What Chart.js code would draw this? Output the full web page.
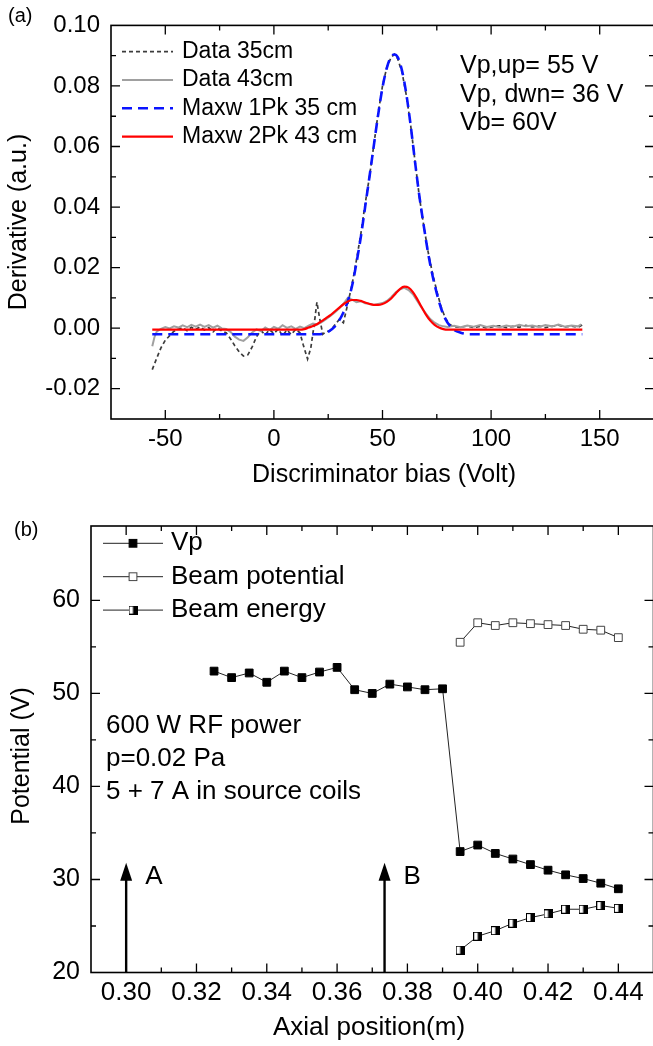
<!DOCTYPE html>
<html>
<head>
<meta charset="utf-8">
<title>Discriminator derivative and axial potential</title>
<script src="https://cdn.jsdelivr.net/npm/chart.js@4.4.1/dist/chart.umd.min.js"></script>
<style>
  html, body { margin: 0; padding: 0; background: #fff; overflow: hidden; }
  #wrap { position: relative; width: 653px; height: 1046px; overflow: hidden; }
  canvas { position: absolute; left: 0; }
  #canvasDeriv { top: 0; }
  #canvasPot { top: 500px; }
</style>
</head>
<body>
<div id="wrap">
  <canvas id="canvasDeriv" width="660" height="500"></canvas>
  <canvas id="canvasPot" width="660" height="546"></canvas>
</div>
<script>
var FONT = "'Liberation Sans', Arial, Helvetica, sans-serif";
Chart.defaults.font.family = FONT;
Chart.defaults.color = '#000';
Chart.defaults.animation = false;

// ---- (a) derivative of the I-V curves, pairs of [bias (V), derivative] ----
var data35 = [
  [-56,-0.0137],[-54,-0.0100],[-52,-0.0065],[-50,-0.0040],[-48,-0.0025],[-46,-0.0010],
  [-44,-0.0003],[-42,0.0002],[-40,-0.0008],[-38,0.0003],[-36,-0.0004],[-34,0.0004],
  [-32,-0.0006],[-30,0.0002],[-28,-0.0012],[-26,0.0001],[-24,-0.0009],[-22,-0.0015],
  [-20,-0.0035],[-18,-0.0058],[-16,-0.0078],[-14,-0.0092],[-12,-0.0088],[-10,-0.0062],
  [-8,-0.0028],[-6,-0.0008],[-4,-0.0022],[-2,-0.0005],[0,-0.0018],[2,-0.0003],
  [4,-0.0025],[6,-0.0006],[8,-0.0021],[10,-0.0004],[12,-0.0015],[13.5,-0.0055],
  [15.5,-0.0102],[17,-0.0065],[18.5,0.0010],[19.8,0.0086],[21,0.0035],[22.5,-0.0020],
  [24,-0.0012],[26,-0.0008],[28,0.0010],[30,0.0028],[32,0.0018],[34,0.0080],
  [36,0.0145],[38,0.0225],[40,0.0310],[42,0.0410],[44,0.0500],[46,0.0605],
  [48,0.0710],[50,0.0800],[52,0.0862],[54,0.0895],[55.5,0.0905],[57,0.0890],
  [59,0.0845],[61,0.0768],[63,0.0668],[65,0.0550],[67,0.0432],[69,0.0338],
  [71,0.0252],[73,0.0182],[75,0.0122],[77,0.0070],[79,0.0032],[81,0.0012],
  [83,0.0004],[86,0.0003],[89,0.0007],[92,0.0002],[95,0.0006],[98,0.0001],
  [101,0.0005],[104,0.0008],[107,0.0002],[110,0.0006],[113,0.0003],[116,0.0009],
  [119,0.0004],[122,0.0007],[125,0.0002],[128,0.0006],[131,0.0010],[134,0.0004],
  [137,0.0007],[140,0.0003],[142,0.0011]
];
var data43 = [
  [-56,-0.0060],[-55,-0.0030],[-54,-0.0012],[-52,-0.0002],[-50,0.0004],[-48,-0.0001],
  [-46,0.0006],[-44,0.0002],[-42,0.0009],[-40,0.0003],[-38,0.0011],[-36,0.0005],
  [-34,0.0012],[-32,0.0004],[-30,0.0010],[-28,0.0002],[-26,0.0008],[-24,-0.0001],
  [-22,-0.0003],[-20,-0.0012],[-18,-0.0028],[-16,-0.0038],[-14,-0.0042],[-12,-0.0030],
  [-10,-0.0014],[-8,-0.0004],[-6,-0.0010],[-4,0.0002],[-2,-0.0006],[0,0.0004],
  [2,-0.0002],[4,0.0010],[6,0.0001],[8,0.0006],[10,-0.0002],[12,0.0005],
  [14,0.0000],[16,0.0008],[18,0.0015],[20,0.0012],[22,0.0020],[24,0.0030],
  [26,0.0040],[28,0.0052],[30,0.0065],[32,0.0080],[34,0.0100],[36,0.0094],
  [38,0.0086],[40,0.0089],[42,0.0082],[44,0.0081],[46,0.0077],[48,0.0080],
  [50,0.0083],[52,0.0090],[54,0.0102],[56,0.0118],[58,0.0128],[60,0.0133],
  [62,0.0126],[64,0.0112],[66,0.0090],[68,0.0068],[70,0.0048],[72,0.0030],
  [74,0.0018],[76,0.0010],[78,0.0006],[80,0.0004],[83,0.0008],[86,0.0003],
  [89,0.0009],[92,0.0005],[95,0.0010],[98,0.0004],[101,0.0008],[104,0.0003],
  [107,0.0009],[110,0.0005],[113,0.0011],[116,0.0006],[119,0.0009],[122,0.0004],
  [125,0.0010],[128,0.0006],[131,0.0012],[134,0.0005],[137,0.0009],[140,0.0006],
  [141.5,0.0013]
];
var maxw1Pk35 = [
  [-56,-0.0020],[0,-0.0020],[20,-0.0020],[22,-0.0019],[25,-0.0012],[28,0.0005],
  [30,0.0025],[32,0.0052],[34,0.0088],[36,0.0140],[38,0.0215],[40,0.0300],
  [42,0.0400],[44,0.0500],[46,0.0603],[48,0.0705],[50,0.0795],[52,0.0860],
  [54,0.0897],[55.5,0.0904],[57,0.0895],[59,0.0850],[61,0.0772],[63,0.0668],
  [65,0.0548],[67,0.0435],[69,0.0338],[71,0.0248],[73,0.0175],[75,0.0115],
  [77,0.0065],[79,0.0030],[81,0.0008],[83,-0.0006],[86,-0.0015],[90,-0.0020],
  [142,-0.0020]
];
var maxw2Pk43 = [
  [-56,-0.0005],[0,-0.0005],[12,-0.0005],[14,-0.0003],[16,0.0002],[18,0.0007],
  [20,0.0014],[22,0.0023],[24,0.0033],[26,0.0043],[28,0.0055],[30,0.0067],
  [32,0.0079],[34,0.0088],[36,0.0093],[38,0.0093],[40,0.0090],[42,0.0085],
  [44,0.0080],[46,0.0077],[48,0.0077],[50,0.0080],[52,0.0087],[54,0.0098],
  [56,0.0114],[58,0.0129],[60,0.0137],[62,0.0134],[64,0.0119],[66,0.0096],
  [68,0.0070],[70,0.0045],[72,0.0025],[74,0.0011],[76,0.0002],[78,-0.0003],
  [80,-0.0005],[142,-0.0005]
];
var notesA = ['Vp,up= 55 V', 'Vp, dwn= 36 V', 'Vb= 60V'];

// ---- (b) potentials along the axis ----
var positionVp = [0.325,0.330,0.335,0.340,0.345,0.350,0.355,0.360,0.365,0.370,0.375,0.380,
                  0.385,0.390,0.395,0.400,0.405,0.410,0.415,0.420,0.425,0.430,0.435,0.440];
var vp = [52.4,51.7,52.2,51.2,52.4,51.7,52.3,52.8,50.4,50.0,51.0,50.7,
          50.4,50.5,33.0,33.7,32.8,32.2,31.6,31.0,30.5,30.1,29.6,29.0];
var positionBeam = [0.395,0.400,0.405,0.410,0.415,0.420,0.425,0.430,0.435,0.440];
var beamPotential = [55.5,57.6,57.3,57.6,57.5,57.4,57.3,56.9,56.8,56.0];
var beamEnergy = [22.4,23.9,24.5,25.3,25.9,26.3,26.8,26.8,27.2,26.9];
var arrowPos = [0.300, 0.3735];
var arrowText = ['A', 'B'];
var arrowFrom = 20, arrowTo = 31.8;
var notesB = ['600 W RF power', 'p=0.02 Pa', '5 + 7 A in source coils'];

function toXY(pairs) {
  return pairs.map(function(p) { return {x: p[0], y: p[1]}; });
}
function zip(xs, ys) {
  return xs.map(function(x, i) { return {x: x, y: ys[i]}; });
}

// frame with inward ticks on all four sides, long ticks where there is a label
var frameTicks = {
  id: 'frameTicks',
  afterDraw: function(chart) {
    var ctx = chart.ctx, a = chart.chartArea, sx = chart.scales.x, sy = chart.scales.y;
    ctx.save();
    ctx.strokeStyle = '#000';
    ctx.lineWidth = 1.3;
    ctx.beginPath();
    sx.ticks.forEach(function(t) {
      var px = sx.getPixelForValue(t.value);
      if (px < a.left + 1 || px > a.right - 1) return;
      var len = t.label ? 9 : 5;
      ctx.moveTo(px, a.bottom); ctx.lineTo(px, a.bottom - len);
      ctx.moveTo(px, a.top); ctx.lineTo(px, a.top + len);
    });
    sy.ticks.forEach(function(t) {
      var py = sy.getPixelForValue(t.value);
      if (py < a.top + 1 || py > a.bottom - 1) return;
      var len = t.label ? 9 : 5;
      ctx.moveTo(a.left, py); ctx.lineTo(a.left + len, py);
      ctx.moveTo(a.right, py); ctx.lineTo(a.right - len, py);
    });
    ctx.stroke();
    ctx.lineWidth = 1.6;
    ctx.strokeRect(a.left, a.top, a.right - a.left, a.bottom - a.top);
    ctx.restore();
  }
};

function drawText(ctx, text, x, y, size, align, rotate) {
  ctx.save();
  ctx.font = size + 'px ' + FONT;
  ctx.fillStyle = '#000';
  ctx.textAlign = align || 'left';
  ctx.textBaseline = 'middle';
  ctx.translate(x, y);
  if (rotate) ctx.rotate(-Math.PI / 2);
  ctx.fillText(text, 0, 0);
  ctx.restore();
}

// ---------------- (a) ----------------
var decorA = {
  id: 'decorA',
  afterDraw: function(chart) {
    var ctx = chart.ctx;
    chart.data.datasets.forEach(function(ds, i) {
      var y = 51.7 + i * 28.3;
      ctx.save();
      ctx.beginPath();
      ctx.strokeStyle = ds.borderColor;
      ctx.lineWidth = ds.borderWidth;
      ctx.setLineDash(ds.borderDash || []);
      ctx.moveTo(122, y); ctx.lineTo(173, y);
      ctx.stroke();
      ctx.restore();
      drawText(ctx, ds.label, 182, y, 23);
    });
    notesA.forEach(function(s, i) { drawText(ctx, s, 460, 66.5 + i * 28.5, 25); });
    drawText(ctx, '(a)', 8, 16, 20);
    drawText(ctx, 'Discriminator bias (Volt)', 384, 475, 25, 'center');
    drawText(ctx, 'Derivative (a.u.)', 19, 222, 25, 'center', true);
  }
};

new Chart(document.getElementById('canvasDeriv'), {
  type: 'line',
  data: {
    datasets: [
      { label: 'Data 35cm', data: toXY(data35), borderColor: '#3c3c3c', borderWidth: 1.7,
        borderDash: [4, 3], pointRadius: 0, tension: 0, order: 4 },
      { label: 'Data 43cm', data: toXY(data43), borderColor: '#a0a0a0', borderWidth: 2,
        pointRadius: 0, tension: 0, order: 3 },
      { label: 'Maxw 1Pk 35 cm', data: toXY(maxw1Pk35), borderColor: '#0a14ff', borderWidth: 2.6,
        borderDash: [10, 6], pointRadius: 0, cubicInterpolationMode: 'monotone', order: 2 },
      { label: 'Maxw 2Pk 43 cm', data: toXY(maxw2Pk43), borderColor: '#ff0000', borderWidth: 2.2,
        pointRadius: 0, cubicInterpolationMode: 'monotone', order: 1 }
    ]
  },
  options: {
    responsive: false,
    devicePixelRatio: 1,
    layout: { padding: { left: 0, top: 16, right: 2.2, bottom: 0 } },
    plugins: { legend: { display: false }, tooltip: { enabled: false } },
    scales: {
      x: {
        type: 'linear', min: -75, max: 175,
        grid: { display: false, drawTicks: false }, border: { display: false },
        ticks: {
          stepSize: 25, autoSkip: false, maxRotation: 0, padding: 6,
          font: { size: 24 },
          callback: function(v) { return v % 50 === 0 ? String(v) : ''; }
        },
        afterFit: function(s) { s.height = 81; }
      },
      y: {
        min: -0.03, max: 0.10,
        grid: { display: false, drawTicks: false }, border: { display: false },
        ticks: {
          stepSize: 0.01, autoSkip: false, padding: 11,
          font: { size: 24 },
          callback: function(v) { return Math.round(v * 100) % 2 === 0 ? v.toFixed(2) : ''; }
        },
        afterFit: function(s) { s.width = 111; }
      }
    }
  },
  plugins: [frameTicks, decorA]
});

// ---------------- (b) ----------------
function halfSquare() {
  var c = document.createElement('canvas');
  c.width = 9; c.height = 9;
  var g = c.getContext('2d');
  g.fillStyle = '#fff'; g.fillRect(0, 0, 9, 9);
  g.fillStyle = '#000'; g.fillRect(4.5, 0, 4.5, 9);
  g.strokeStyle = '#000'; g.lineWidth = 1; g.strokeRect(0.5, 0.5, 8, 8);
  return c;
}
var energyMarker = halfSquare();

function drawMarker(ctx, ds, x, y) {
  if (ds.pointStyle === 'rect') {
    var h = ds.pointRadius * Math.SQRT1_2;
    ctx.fillStyle = ds.pointBackgroundColor;
    ctx.strokeStyle = ds.pointBorderColor;
    ctx.lineWidth = 1;
    ctx.fillRect(x - h, y - h, 2 * h, 2 * h);
    ctx.strokeRect(x - h, y - h, 2 * h, 2 * h);
  } else {
    ctx.drawImage(ds.pointStyle, x - ds.pointStyle.width / 2, y - ds.pointStyle.height / 2);
  }
}

var decorB = {
  id: 'decorB',
  afterDraw: function(chart) {
    var ctx = chart.ctx, sx = chart.scales.x, sy = chart.scales.y;
    chart.data.datasets.forEach(function(ds, i) {
      var y = 43.3 + i * 33.4;
      ctx.save();
      ctx.beginPath();
      ctx.strokeStyle = '#222';
      ctx.lineWidth = 1;
      ctx.moveTo(103, y); ctx.lineTo(163, y);
      ctx.stroke();
      drawMarker(ctx, ds, 133, y);
      ctx.restore();
      drawText(ctx, ds.label, 171, y, 26);
    });
    // position arrows A and B
    arrowPos.forEach(function(p, i) {
      var x = sx.getPixelForValue(p);
      var y0 = sy.getPixelForValue(arrowFrom), y1 = sy.getPixelForValue(arrowTo);
      ctx.save();
      ctx.strokeStyle = '#000';
      ctx.fillStyle = '#000';
      ctx.lineWidth = 2.4;
      ctx.beginPath();
      ctx.moveTo(x, y0); ctx.lineTo(x, y1 + 12);
      ctx.stroke();
      ctx.beginPath();
      ctx.moveTo(x, y1); ctx.lineTo(x - 6, y1 + 18); ctx.lineTo(x + 6, y1 + 18);
      ctx.closePath();
      ctx.fill();
      ctx.restore();
      drawText(ctx, arrowText[i], x + 19, sy.getPixelForValue(30.3), 26);
    });
    notesB.forEach(function(s, i) { drawText(ctx, s, 106, 226 + i * 33, 26); });
    drawText(ctx, '(b)', 14, 30, 20);
    drawText(ctx, 'Axial position(m)', 369, 528, 26, 'center');
    drawText(ctx, 'Potential (V)', 22, 256, 25, 'center', true);
  }
};

new Chart(document.getElementById('canvasPot'), {
  type: 'line',
  data: {
    datasets: [
      { label: 'Vp', data: zip(positionVp, vp), borderColor: '#222', borderWidth: 1,
        pointStyle: 'rect', pointRadius: 5.5, pointBackgroundColor: '#000',
        pointBorderColor: '#000', pointBorderWidth: 1, tension: 0 },
      { label: 'Beam potential', data: zip(positionBeam, beamPotential), borderColor: '#222',
        borderWidth: 1, pointStyle: 'rect', pointRadius: 5.5, pointBackgroundColor: '#fff',
        pointBorderColor: '#444', pointBorderWidth: 1, tension: 0 },
      { label: 'Beam energy', data: zip(positionBeam, beamEnergy), borderColor: '#222',
        borderWidth: 1, pointStyle: energyMarker, pointRadius: 5, tension: 0 }
    ]
  },
  options: {
    responsive: false,
    devicePixelRatio: 1,
    layout: { padding: { left: 0, top: 14, right: 5.4, bottom: 0 } },
    plugins: { legend: { display: false }, tooltip: { enabled: false } },
    scales: {
      x: {
        type: 'linear', min: 0.29, max: 0.45,
        grid: { display: false, drawTicks: false }, border: { display: false },
        ticks: {
          stepSize: 0.01, autoSkip: false, maxRotation: 0, padding: 5,
          font: { size: 26 },
          callback: function(v) { return Math.round(v * 100) % 2 === 0 ? v.toFixed(2) : ''; }
        },
        afterFit: function(s) { s.height = 73.5; }
      },
      y: {
        min: 20, max: 68,
        grid: { display: false, drawTicks: false }, border: { display: false },
        ticks: {
          stepSize: 5, autoSkip: false, padding: 11,
          font: { size: 25 },
          callback: function(v) { return v % 10 === 0 ? String(v) : ''; }
        },
        afterFit: function(s) { s.width = 91; }
      }
    }
  },
  plugins: [frameTicks, decorB]
});
</script>
</body>
</html>
